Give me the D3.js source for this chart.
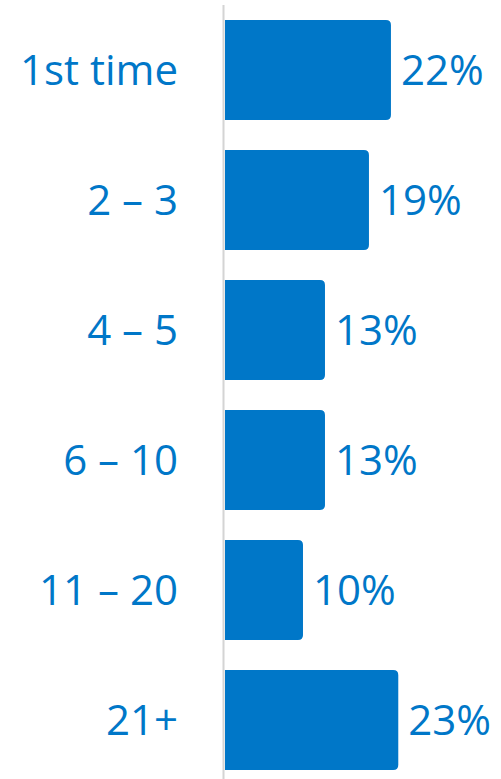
<!DOCTYPE html>
<html><head><meta charset="utf-8">
<script src="https://cdn.jsdelivr.net/npm/d3@7"></script>
<style>html,body{margin:0;padding:0;background:#fff;}</style>
</head><body>
<script>
const categories = ["1st time", "2 – 3", "4 – 5", "6 – 10", "11 – 20", "21+"];
const values = [22, 19, 13, 13, 10, 23];
const valueLabels = ["22%", "19%", "13%", "13%", "10%", "23%"];

const W = 501, H = 779;
const color = "#0077c8";
const x0 = 225;
const svg = d3.select("body").append("svg").attr("width", W).attr("height", H);

const xs = d3.scaleLinear().domain([-0.64, 23]).range([x0, x0 + 7.33*(23+0.64)]);
const y = d3.scaleBand().domain(categories).range([5, 785]).paddingInner(0.2308).paddingOuter(0.115);

// axis line
svg.append("line").attr("x1", 223.5).attr("x2", 223.5).attr("y1", 5).attr("y2", H)
  .attr("stroke", "#d4d4d4").attr("stroke-width", 2);

const r = 5;
function barPath(x1, y1, w, h) {
  return `M${x1},${y1} H${x1+w-r} Q${x1+w},${y1} ${x1+w},${y1+r} V${y1+h-r} Q${x1+w},${y1+h} ${x1+w-r},${y1+h} H${x1} Z`;
}

const g = svg.selectAll("g.bar").data(categories).enter().append("g");
g.append("path").attr("fill", color)
  .attr("d", (d,i) => barPath(x0, y(d), xs(values[i]) - x0, y.bandwidth()));
g.append("text").attr("x", 178).attr("y", d => y(d) + y.bandwidth()/2)
  .attr("dy", "0.36em").attr("text-anchor", "end")
  .attr("font-family", "Open Sans, sans-serif").attr("font-size", 42).attr("fill", color)
  .text(d => d);
g.append("text").attr("x", (d,i) => xs(values[i]) + 10).attr("y", d => y(d) + y.bandwidth()/2)
  .attr("dy", "0.36em").attr("text-anchor", "start")
  .attr("font-family", "Open Sans, sans-serif").attr("font-size", 42).attr("fill", color)
  .text((d,i) => valueLabels[i]);
</script>
</body></html>
